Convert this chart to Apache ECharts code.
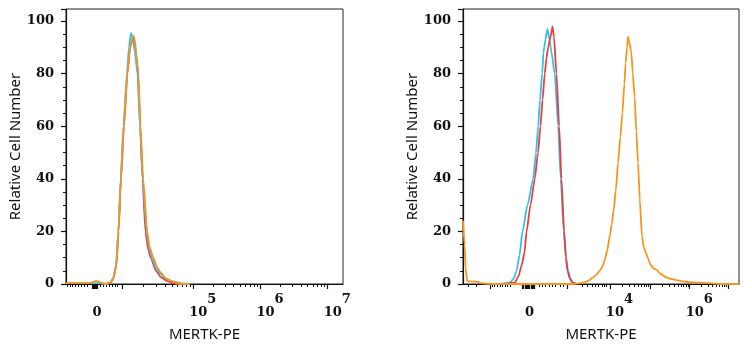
<!DOCTYPE html>
<html>
<head>
<meta charset="utf-8">
<script src="https://cdn.jsdelivr.net/npm/echarts@6/dist/echarts.min.js"></script>
<style>
  html, body { margin: 0; padding: 0; background: #fff; }
  #chart { width: 752px; height: 350px; }
</style>
</head>
<body>
<div id="chart"></div>
<script>
// x values are positions on the logicle display scale, in decade units (10^5 -> 5)

// left panel
const leftCyan = [
    [3.106, 0.3], [3.46, 0.3], [3.60, 0.3], [3.70, 0], [3.76, 0.5], [3.805, 2], [3.85, 7],
    [3.884, 20], [3.92, 40], [3.961, 60], [4.013, 80], [4.043, 90], [4.073, 95.5],
    [4.095, 94], [4.132, 88], [4.17, 80], [4.207, 60], [4.247, 40], [4.307, 20],
    [4.341, 14], [4.396, 9], [4.445, 6], [4.504, 4], [4.594, 2], [4.698, 1],
    [4.832, 0.2], [4.95, 0]
];
const leftRed = [
    [3.70, 0], [3.765, 0.5], [3.81, 2], [3.855, 7], [3.888, 20], [3.925, 40], [3.968, 60],
    [4.02, 80], [4.06, 90], [4.103, 94], [4.125, 92], [4.155, 86], [4.18, 79],
    [4.21, 60], [4.245, 40], [4.289, 20], [4.33, 13], [4.366, 10], [4.445, 5],
    [4.52, 2.5], [4.624, 1], [4.75, 0], [4.95, 0]
];
const leftOrange = [
    [3.106, 0.3], [3.40, 0.3], [3.50, 0.6], [3.55, 1.2], [3.60, 0.8], [3.66, 0.2], [3.72, 0],
    [3.765, 0.5], [3.81, 2], [3.855, 7], [3.886, 20], [3.922, 40], [3.965, 60],
    [4.02, 80], [4.05, 88], [4.083, 93], [4.11, 94.5], [4.13, 93], [4.155, 87],
    [4.183, 80], [4.215, 60], [4.255, 40], [4.315, 20], [4.35, 14], [4.405, 10],
    [4.46, 6.5], [4.51, 4.5], [4.60, 2], [4.70, 0.8], [4.83, 0], [4.95, 0]
];

// right panel
const rightCyan = [
    [1.203, 0], [1.438, 0.5], [1.532, 2], [1.608, 5], [1.684, 11], [1.759, 20],
    [1.886, 30], [2.03, 40], [2.101, 50], [2.157, 60], [2.203, 70], [2.258, 80],
    [2.291, 88], [2.342, 93], [2.392, 97], [2.443, 93], [2.494, 88], [2.577, 80],
    [2.663, 60], [2.729, 40], [2.805, 20], [2.861, 10], [2.916, 5], [2.975, 2],
    [3.043, 0.5], [3.127, 0]
];
const rightRed = [
    [1.329, 0], [1.565, 0.5], [1.658, 3], [1.734, 7], [1.81, 12], [1.861, 20],
    [1.962, 30], [2.071, 40], [2.152, 50], [2.215, 60], [2.266, 70], [2.324, 80],
    [2.367, 86], [2.41, 90], [2.468, 94], [2.519, 98], [2.557, 94], [2.62, 80],
    [2.689, 60], [2.747, 40], [2.815, 20], [2.861, 10], [2.899, 5], [2.962, 2],
    [3.025, 0.5], [3.127, 0]
];
const rightOrange = [
    [0.25, 24], [0.291, 15], [0.316, 6], [0.359, 1], [0.443, 1], [0.638, 0.8],
    [0.696, 0.3], [0.949, 0], [3.0, 0], [3.177, 0.2], [3.304, 0.5], [3.43, 1.2],
    [3.549, 2.5], [3.633, 3.5], [3.716, 5], [3.785, 6.5], [3.843, 9], [3.911, 13],
    [3.97, 18], [4.025, 23], [4.071, 28], [4.127, 36], [4.182, 46], [4.241, 56],
    [4.291, 65], [4.342, 76], [4.375, 84], [4.41, 90], [4.435, 94], [4.468, 92],
    [4.519, 88], [4.557, 80], [4.603, 71], [4.646, 58], [4.689, 46], [4.734, 32],
    [4.79, 18], [4.835, 14], [4.881, 12], [4.937, 10], [5.0, 7.5], [5.076, 6],
    [5.152, 5.5], [5.253, 4], [5.405, 2.5], [5.506, 2], [5.658, 1.5], [5.81, 1],
    [5.987, 0.7], [6.215, 0.5], [6.494, 0.3], [6.772, 0], [7.25, 0]
];

// tick labels: [position, exponent or '0']
const leftLabels = [[3.567, '0'], [5, '5'], [6, '6'], [7, '7']];
const rightLabels = [[1.937, '0'], [3.975, '4'], [6, '6']];

// axis ticks
const leftMajor = [3.941, 5, 6, 7];
const leftZeroBlock = [3.5, 3.515, 3.53, 3.545, 3.56, 3.572];
const leftNearZero = [3.125, 3.165, 3.205, 3.25, 3.295, 3.333, 3.374, 3.423,
    3.622, 3.661, 3.711, 3.75, 3.79, 3.837, 3.871];
const rightMajor = [0.949, 2.891, 3.975, 5, 6, 6.97];
const rightZeroBlock = [1.76, 1.79, 1.82, 1.85, 1.88, 1.91, 1.94, 1.97, 2.0, 2.03, 2.06];
const rightNearZero = [0.385, 0.587, 0.992, 1.051, 1.119, 1.185, 1.246, 1.311, 1.38,
    1.456, 2.172, 2.258, 2.342, 2.425, 2.511, 2.595, 2.722, 2.805,
    3.271, 3.397, 3.524, 3.608, 3.691, 3.777, 3.835, 3.886];

const CYAN = '#2ec3ea';
const RED = '#eb3d3d';
const ORANGE = '#f7941d';
const SERIF = '"DejaVu Serif", serif';
const SANS = '"Noto Sans", "Open Sans", sans-serif';

// log minor ticks between consecutive decade ticks
function logMinors(decades) {
    let out = [];
    for (let i = 0; i < decades.length - 1; i++) {
        let w = decades[i + 1] - decades[i];
        for (let k = 2; k <= 9; k++) {
            out.push(decades[i] + Math.log10(k) * w);
        }
    }
    return out;
}

function mainXAxis(grid, min, max, widthPx, major, block, labels) {
    let decadeLabels = labels.filter((l) => l[1] !== '0');
    // "10" starts a few px left of its tick
    let shift = (4 * (max - min)) / widthPx;
    let pos = decadeLabels.map((l) => l[0] - shift);
    return {
        type: 'value',
        gridIndex: grid,
        position: 'bottom',
        min: min,
        max: max,
        name: 'MERTK-PE',
        nameLocation: 'middle',
        nameGap: 43,
        nameTextStyle: { fontFamily: SANS, fontSize: 15, color: '#111' },
        axisLine: { show: true, onZero: false, lineStyle: { color: '#111', width: 1.2 } },
        axisTick: {
            show: true,
            customValues: major.concat(block),
            length: 5,
            lineStyle: { color: '#111', width: 1.2 },
        },
        axisLabel: {
            customValues: pos,
            align: 'left',
            margin: 8,
            formatter: (v) => {
                let i = pos.findIndex((p) => Math.abs(p - v) < 1e-6);
                return i >= 0 ? '{b|10}{s|' + decadeLabels[i][1] + '}' : '';
            },
            rich: {
                b: { fontFamily: SERIF, fontSize: 13, fontWeight: 'bold', color: '#111', padding: [14, 0, 0, 0] },
                s: { fontFamily: SERIF, fontSize: 13, fontWeight: 'bold', color: '#111', padding: [0, 0, 12, 0] },
            },
        },
        splitLine: { show: false },
    };
}

function minorXAxis(grid, min, max, minors, labels) {
    let zero = labels.filter((l) => l[1] === '0');
    return {
        type: 'value',
        gridIndex: grid,
        position: 'bottom',
        min: min,
        max: max,
        axisLine: { show: false, onZero: false },
        axisTick: {
            show: true,
            customValues: minors,
            length: 3,
            lineStyle: { color: '#111', width: 1 },
        },
        axisLabel: {
            customValues: zero.map((l) => l[0]),
            margin: 22,
            formatter: () => '0',
            fontFamily: SERIF,
            fontSize: 13,
            fontWeight: 'bold',
            color: '#111',
        },
        splitLine: { show: false },
    };
}

function yAxis(grid) {
    return {
        type: 'value',
        gridIndex: grid,
        min: 0,
        max: 104.6,
        interval: 20,
        name: 'Relative Cell Number',
        nameLocation: 'middle',
        nameGap: 40,
        nameTextStyle: { fontFamily: SANS, fontSize: 15, color: '#111' },
        axisLine: { show: true, lineStyle: { color: '#111', width: 1.2 } },
        axisTick: { show: true, length: 5, lineStyle: { color: '#111', width: 1.2 } },
        minorTick: { show: true, splitNumber: 4, length: 3, lineStyle: { color: '#111' } },
        axisLabel: {
            showMaxLabel: false,
            margin: 12,
            fontFamily: SERIF,
            fontSize: 13,
            fontWeight: 'bold',
            color: '#111',
        },
        splitLine: { show: false },
        minorSplitLine: { show: false },
    };
}

function curve(xIdx, yIdx, data, color) {
    return {
        type: 'line',
        xAxisIndex: xIdx,
        yAxisIndex: yIdx,
        data: data,
        showSymbol: false,
        smooth: 0.2,
        smoothMonotone: 'x',
        lineStyle: { color: color, width: 1.8 },
        z: 3,
        animation: false,
    };
}

let chart = echarts.init(document.getElementById('chart'));
let option = {
    backgroundColor: '#fff',
    animation: false,
    grid: [
        { left: 66, right: 409, top: 9, bottom: 66, show: true, borderColor: '#222', borderWidth: 1 },
        { left: 463, right: 13, top: 9, bottom: 66, show: true, borderColor: '#222', borderWidth: 1 },
    ],
    xAxis: [
        mainXAxis(0, 3.106, 7.228, 277, leftMajor, leftZeroBlock, leftLabels),
        minorXAxis(0, 3.106, 7.228, leftNearZero.concat(logMinors(leftMajor)), leftLabels),
        mainXAxis(1, 0.25, 7.25, 276, rightMajor, rightZeroBlock, rightLabels),
        minorXAxis(1, 0.25, 7.25, rightNearZero.concat(logMinors([3.975, 5, 6, 6.97])), rightLabels),
    ],
    yAxis: [yAxis(0), yAxis(1)],
    series: [
        curve(0, 0, leftRed, RED),
        curve(0, 0, leftCyan, CYAN),
        curve(0, 0, leftOrange, ORANGE),
        curve(2, 1, rightCyan, CYAN),
        curve(2, 1, rightRed, RED),
        curve(2, 1, rightOrange, ORANGE),
    ],
};
chart.setOption(option);
</script>
</body>
</html>
